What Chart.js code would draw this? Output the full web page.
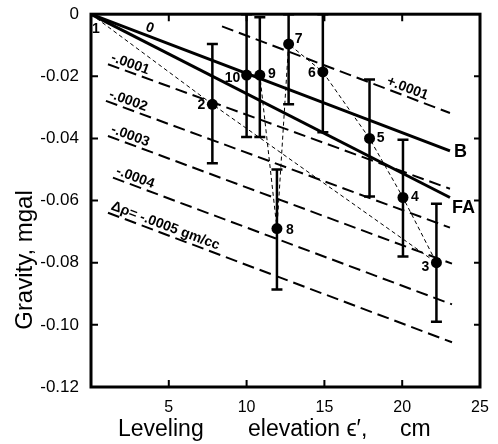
<!DOCTYPE html>
<html>
<head>
<meta charset="utf-8">
<script src="https://cdn.jsdelivr.net/npm/chart.js@4.4.1/dist/chart.umd.min.js"></script>
<style>
  html, body { margin: 0; padding: 0; background: #fff; }
  #wrap { width: 498px; height: 444px; }
</style>
</head>
<body>
<div id="wrap"><canvas id="chart" width="498" height="444"></canvas></div>
<script>
// stations in survey order 1..10
const stationNames = ["1", "2", "3", "4", "5", "6", "7", "8", "9", "10"];
const stationElev = [0, 7.8, 22.2, 20.05, 17.9, 14.9, 12.7, 11.95, 10.85, 10.0];
const stationGrav = [0, -0.029, -0.080, -0.059, -0.040, -0.0186, -0.0096, -0.069, -0.0196, -0.0196];
const gravHigh = [null, -0.0096, -0.061, -0.0404, -0.021, 0, 0, -0.050, -0.001, 0];
const gravLow = [null, -0.048, -0.099, -0.078, -0.0587, -0.038, -0.029, -0.0886, -0.0395, -0.0395];

// reduction lines (Bouguer, free air)
const refX = [0, 23.07];
const bouguerY = [0, -0.044];
const freeAirY = [0, -0.059];

// density contrast lines
const densityLabels = ["+.0001", "-.0001", "-.0002", "-.0003", "-.0004", "\u0394\u03c1= -.0005 gm/cc"];
const densityX0 = [8.42, 1.09, 0.96, 1.09, 1.41, 1.09];
const densityY0 = [-0.0039, -0.0161, -0.0279, -0.0392, -0.0526, -0.0639];
const densityX1 = [23.07, 23.07, 23.07, 23.2, 23.2, 23.2];
const densityY1 = [-0.0318, -0.0562, -0.0687, -0.0803, -0.0934, -0.1056];
const densityLabelX = [18.8, 1.09, 0.96, 1.09, 1.41, 1.09];

const xTicks = [5, 10, 15, 20, 25];
const yTicks = [0, -0.02, -0.04, -0.06, -0.08, -0.10, -0.12];

const FONT = "'Liberation Sans', Arial, sans-serif";

const pts = (xs, ys) => xs.map((x, i) => ({ x: x, y: ys[i] }));

const datasets = [
  {
    data: pts(stationElev, stationGrav),
    showLine: true,
    borderColor: "#000",
    backgroundColor: "#000",
    borderWidth: 1,
    borderDash: [4, 3],
    pointRadius: stationElev.map((x, i) => (i === 0 ? 0 : 5.5)),
    pointBorderWidth: 0,
  },
  { data: pts(refX, bouguerY), showLine: true, borderColor: "#000", borderWidth: 3, pointRadius: 0 },
  { data: pts(refX, freeAirY), showLine: true, borderColor: "#000", borderWidth: 3, pointRadius: 0 },
];
densityLabels.forEach((lbl, i) => {
  datasets.push({
    data: [{ x: densityX0[i], y: densityY0[i] }, { x: densityX1[i], y: densityY1[i] }],
    showLine: true,
    borderColor: "#000",
    borderWidth: 2,
    borderDash: [12, 6],
    pointRadius: 0,
  });
});

// station label offsets in px (dx, dy)
const labelOffsets = [[5, 15], [-11, 1], [-11, 4], [12, 0], [11, 0], [-11, 1], [10, -5], [13, 2], [12, -1], [-14, 3]];

const errorBars = {
  id: "errorBars",
  afterDatasetsDraw(chart) {
    const { ctx, scales: { x, y } } = chart;
    ctx.save();
    ctx.strokeStyle = "#000";
    ctx.lineWidth = 2.5;
    ctx.beginPath();
    stationElev.forEach((e, i) => {
      if (gravHigh[i] === null) return;
      const px = x.getPixelForValue(e);
      const top = y.getPixelForValue(gravHigh[i]);
      const bot = y.getPixelForValue(gravLow[i]);
      ctx.moveTo(px, top); ctx.lineTo(px, bot);
      ctx.moveTo(px - 5.5, top); ctx.lineTo(px + 5.5, top);
      ctx.moveTo(px - 5.5, bot); ctx.lineTo(px + 5.5, bot);
    });
    ctx.stroke();
    ctx.restore();
  },
};

const frame = {
  id: "frame",
  afterDraw(chart) {
    const { ctx, chartArea: a, scales: { x, y } } = chart;
    ctx.save();
    ctx.strokeStyle = "#000";
    ctx.lineWidth = 3;
    ctx.strokeRect(a.left, a.top, a.right - a.left, a.bottom - a.top);
    ctx.lineWidth = 2;
    ctx.beginPath();
    xTicks.forEach(v => {
      if (v >= x.max) return;
      const px = x.getPixelForValue(v);
      ctx.moveTo(px, a.bottom); ctx.lineTo(px, a.bottom - 7);
      ctx.moveTo(px, a.top); ctx.lineTo(px, a.top + 7);
    });
    yTicks.forEach(v => {
      if (v >= y.max || v <= y.min) return;
      const py = y.getPixelForValue(v);
      ctx.moveTo(a.left, py); ctx.lineTo(a.left + 7, py);
      ctx.moveTo(a.right, py); ctx.lineTo(a.right - 6, py);
    });
    ctx.stroke();

    // axis titles
    ctx.fillStyle = "#000";
    ctx.font = "23px " + FONT;
    ctx.textBaseline = "alphabetic";
    ctx.textAlign = "left";
    ctx.fillText("Leveling", 118, 436);
    ctx.fillText("elevation \u03f5\u2032,", 248, 436);
    ctx.fillText("cm", 400, 436);
    ctx.save();
    ctx.translate(25, 260);
    ctx.rotate(-Math.PI / 2);
    ctx.textAlign = "center";
    ctx.textBaseline = "middle";
    ctx.font = "24px " + FONT;
    ctx.fillText("Gravity, mgal", 0, 0);
    ctx.restore();

    // station numbers
    ctx.font = "bold 14px " + FONT;
    ctx.textAlign = "center";
    ctx.textBaseline = "middle";
    stationNames.forEach((n, i) => {
      const px = x.getPixelForValue(stationElev[i]);
      const py = y.getPixelForValue(stationGrav[i]);
      ctx.fillText(n, px + labelOffsets[i][0], py + labelOffsets[i][1]);
    });

    // B and FA
    ctx.font = "bold 18px " + FONT;
    ctx.textAlign = "left";
    ctx.fillText("B", x.getPixelForValue(refX[1]) + 4, y.getPixelForValue(bouguerY[1]) + 1);
    ctx.fillText("FA", x.getPixelForValue(refX[1]) + 2, y.getPixelForValue(freeAirY[1]) + 11);

    // density labels along their lines
    ctx.font = "bold 14px " + FONT;
    ctx.textBaseline = "alphabetic";
    const along = (x0, y0, x1, y1, at, text) => {
      const p0x = x.getPixelForValue(x0), p0y = y.getPixelForValue(y0);
      const p1x = x.getPixelForValue(x1), p1y = y.getPixelForValue(y1);
      const ang = Math.atan2(p1y - p0y, p1x - p0x);
      const px = x.getPixelForValue(at);
      const py = p0y + (px - p0x) * Math.tan(ang);
      ctx.save();
      ctx.translate(px, py);
      ctx.rotate(ang);
      ctx.fillText(text, 1, -4);
      ctx.restore();
    };
    along(refX[0], bouguerY[0], refX[1], bouguerY[1], 3.3, "0");
    densityLabels.forEach((t, i) => {
      along(densityX0[i], densityY0[i], densityX1[i], densityY1[i], densityLabelX[i], t);
    });
    ctx.restore();
  },
};

new Chart(document.getElementById("chart"), {
  type: "scatter",
  data: { datasets: datasets },
  options: {
    responsive: false,
    animation: false,
    devicePixelRatio: 1,
    layout: { padding: { top: 13, right: 18, left: 0, bottom: 0 } },
    plugins: { legend: { display: false }, tooltip: { enabled: false } },
    scales: {
      x: {
        type: "linear",
        min: 0,
        max: 25,
        afterBuildTicks: s => { s.ticks = xTicks.map(v => ({ value: v })); },
        afterFit: s => { s.height = 57; },
        grid: { display: false },
        border: { display: false },
        ticks: { color: "#000", font: { family: FONT, size: 16 }, padding: 3, maxRotation: 0, autoSkip: false },
      },
      y: {
        type: "linear",
        min: -0.12,
        max: 0,
        afterBuildTicks: s => { s.ticks = yTicks.map(v => ({ value: v })); },
        afterFit: s => { s.width = 91; },
        grid: { display: false },
        border: { display: false },
        ticks: {
          color: "#000",
          font: { family: FONT, size: 17 },
          padding: 4,
          autoSkip: false,
          callback: v => (v === 0 ? "0" : v.toFixed(2)),
        },
      },
    },
  },
  plugins: [errorBars, frame],
});
</script>
</body>
</html>
